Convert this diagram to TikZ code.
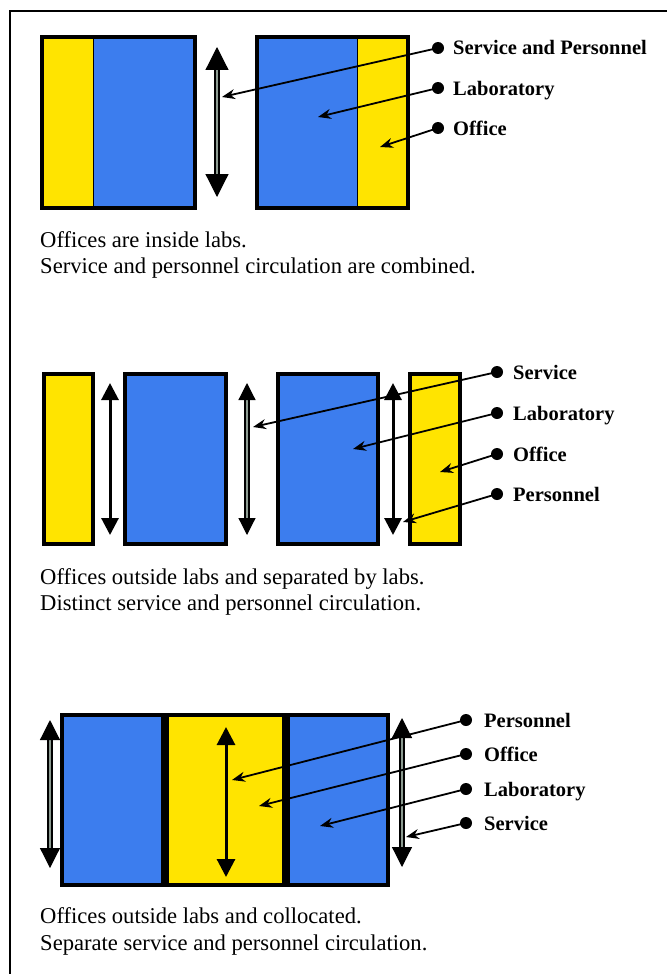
\documentclass[tikz,border=0pt]{standalone}
\usepackage{fontspec}
\setmainfont{Liberation Serif}
\usetikzlibrary{arrows.meta}
\definecolor{labblue}{RGB}{60,125,238}
\definecolor{offyellow}{RGB}{255,228,0}
\definecolor{svcgray}{RGB}{140,155,145}
\tikzset{
  room/.style={line width=4pt, draw=black},
  labroom/.style={room, fill=labblue},
  offroom/.style={room, fill=offyellow},
  svcflow/.style={draw=black, line width=1.2pt, double=svcgray, double distance=2.8pt,
    {Triangle[width=#1,length=#1]}-{Triangle[width=#1,length=#1]}},
  perflow/.style={draw=black, line width=3pt,
    {Triangle[width=#1,length=#1]}-{Triangle[width=#1,length=#1]}},
  leader/.style={draw=black, line width=1.8pt, -{Stealth[length=13pt,width=10pt]}},
  dot/.style={circle, fill=black, inner sep=0pt, minimum size=12pt},
  keytext/.style={anchor=base west, inner sep=0pt, font=\fontsize{20.5}{24}\selectfont\bfseries},
  caption/.style={anchor=base west, inner sep=0pt, font=\fontsize{22.6}{26}\selectfont},
}
\begin{document}
\begin{tikzpicture}[x=1pt,y=-1pt]
\useasboundingbox (0,0) rectangle (667,974);
\fill[white] (0,0) rectangle (667,974);
% page frame
\draw[line width=1.5pt] (10,974) -- (10,11) -- (667,11);

% ---------- Layout 1: offices inside labs ----------
\fill[offyellow] (42,37) rectangle (93,208);
\fill[labblue] (93,37) rectangle (195,208);
\draw[line width=0.8pt] (93,37) -- (93,208);
\draw[room] (42,37) rectangle (195,208);
\fill[labblue] (257,37) rectangle (357,208);
\fill[offyellow] (357,37) rectangle (408,208);
\draw[line width=0.8pt] (357,37) -- (357,208);
\draw[room] (257,37) rectangle (408,208);

\coordinate (a1t) at (217,47);
\coordinate (a1b) at (217,197);
\draw[svcflow=23pt] (a1t) -- (a1b);

\node[dot] (d1a) at (438,48) {};
\node[dot] (d1b) at (438,88) {};
\node[dot] (d1c) at (438,128) {};
\node[keytext] (k1a) at (453,55) {Service and Personnel};
\node[keytext] (k1b) at (453,95) {Laboratory};
\node[keytext] (k1c) at (453,135) {Office};
\coordinate (t1a) at (222,97);
\coordinate (t1b) at (318,117);
\coordinate (t1c) at (380,147);
\draw[leader] (d1a.center) -- (t1a);
\draw[leader] (d1b.center) -- (t1b);
\draw[leader] (d1c.center) -- (t1c);

\node[caption] (c1a) at (40,247) {Offices are inside labs.};
\node[caption] (c1b) at (40,273) {Service and personnel circulation are combined.};

% ---------- Layout 2: offices separated by labs ----------
\draw[offroom] (44,374) rectangle (93,544);
\draw[labroom] (125,374) rectangle (226,544);
\draw[labroom] (278,374) rectangle (378,544);
\draw[offroom] (410,374) rectangle (460,544);

\coordinate (a2at) at (110,383);
\coordinate (a2ab) at (110,535);
\coordinate (a2bt) at (247,383);
\coordinate (a2bb) at (247,535);
\coordinate (a2ct) at (393,383);
\coordinate (a2cb) at (393,535);
\draw[perflow=17pt] (a2at) -- (a2ab);
\draw[svcflow=17pt] (a2bt) -- (a2bb);
\draw[perflow=17pt] (a2ct) -- (a2cb);

\node[dot] (d2a) at (497,372) {};
\node[dot] (d2b) at (497,413) {};
\node[dot] (d2c) at (497,454) {};
\node[dot] (d2d) at (497,494) {};
\node[keytext] (k2a) at (513,379) {Service};
\node[keytext] (k2b) at (513,420) {Laboratory};
\node[keytext] (k2c) at (513,461) {Office};
\node[keytext] (k2d) at (513,501) {Personnel};
\coordinate (t2a) at (253,427);
\coordinate (t2b) at (353,449);
\coordinate (t2c) at (440,472);
\coordinate (t2d) at (403,522);
\draw[leader] (d2a.center) -- (t2a);
\draw[leader] (d2b.center) -- (t2b);
\draw[leader] (d2c.center) -- (t2c);
\draw[leader] (d2d.center) -- (t2d);

\node[caption] (c2a) at (40,584) {Offices outside labs and separated by labs.};
\node[caption] (c2b) at (40,610) {Distinct service and personnel circulation.};

% ---------- Layout 3: offices collocated ----------
\draw[labroom] (62,715) rectangle (163,885);
\draw[offroom] (167,715) rectangle (284,885);
\draw[labroom] (288,715) rectangle (388,885);

\coordinate (a3at) at (50,720);
\coordinate (a3ab) at (50,868);
\coordinate (a3bt) at (226,727);
\coordinate (a3bb) at (226,877);
\coordinate (a3ct) at (402,718);
\coordinate (a3cb) at (402,867);
\draw[svcflow=20pt] (a3at) -- (a3ab);
\draw[perflow=18pt] (a3bt) -- (a3bb);
\draw[svcflow=20pt] (a3ct) -- (a3cb);

\node[dot] (d3a) at (466,720) {};
\node[dot] (d3b) at (466,754) {};
\node[dot] (d3c) at (466,789) {};
\node[dot] (d3d) at (466,823) {};
\node[keytext] (k3a) at (484,727) {Personnel};
\node[keytext] (k3b) at (484,761) {Office};
\node[keytext] (k3c) at (484,796) {Laboratory};
\node[keytext] (k3d) at (484,830) {Service};
\coordinate (t3a) at (232,780);
\coordinate (t3b) at (259,806);
\coordinate (t3c) at (320,826);
\coordinate (t3d) at (406,837);
\draw[leader] (d3a.center) -- (t3a);
\draw[leader] (d3b.center) -- (t3b);
\draw[leader] (d3c.center) -- (t3c);
\draw[leader] (d3d.center) -- (t3d);

\node[caption] (c3a) at (40,923) {Offices outside labs and collocated.};
\node[caption] (c3b) at (40,950) {Separate service and personnel circulation.};
\end{tikzpicture}
\end{document}
